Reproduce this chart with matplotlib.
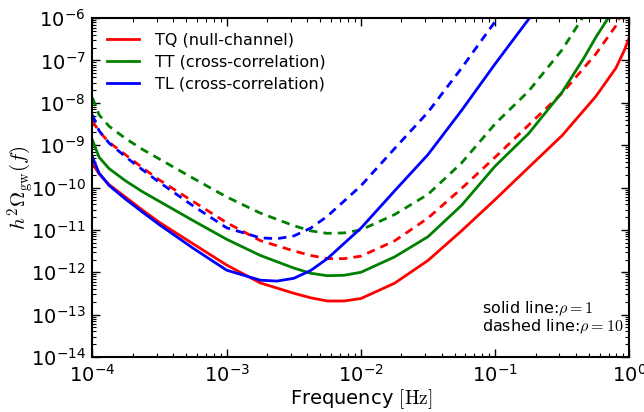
"""
Sensitivity curves h^2 Omega_gw(f) for the TQ / TT / TL channels,
solid for SNR rho = 1 and dashed for rho = 10.
"""

import numpy as np
import matplotlib
matplotlib.use("Agg")
import matplotlib.pyplot as plt
from matplotlib.ticker import LogLocator

plt.rcParams['mathtext.fontset'] = 'cm'
plt.rcParams['font.family'] = ['DejaVu Sans']

# data (rho = 1 curves)

f_tq = [1.0e-4, 1.12e-4, 1.33e-4, 1.78e-4, 2.37e-4, 3.16e-4, 5.62e-4, 1.0e-3,
        1.78e-3, 3.16e-3, 4.22e-3, 5.62e-3, 7.5e-3, 1.0e-2, 1.78e-2, 3.16e-2,
        5.62e-2, 0.1, 0.178, 0.316, 0.562, 0.794, 0.912, 1.0]
tq = [3.7e-10, 2.1e-10, 1.17e-10, 5.8e-11, 2.9e-11, 1.5e-11, 4.7e-12, 1.48e-12,
      5.6e-13, 3.2e-13, 2.5e-13, 2.1e-13, 2.1e-13, 2.4e-13, 5.5e-13, 1.9e-12,
      9.5e-12, 5.2e-11, 3.0e-10, 1.7e-9, 1.41e-8, 6.6e-8, 1.66e-7, 3.5e-7]

f_tt = [1.0e-4, 1.12e-4, 1.33e-4, 1.78e-4, 2.37e-4, 3.16e-4, 5.62e-4, 1.0e-3,
        1.78e-3, 3.16e-3, 4.22e-3, 5.62e-3, 7.5e-3, 1.0e-2, 1.78e-2, 3.16e-2,
        5.62e-2, 0.1, 0.178, 0.316, 0.457, 0.562, 0.8]
tt = [1.32e-9, 5.2e-10, 2.8e-10, 1.41e-10, 7.9e-11, 4.7e-11, 1.66e-11, 6.0e-12,
      2.5e-12, 1.26e-12, 9.5e-13, 8.3e-13, 8.5e-13, 1.0e-12, 2.3e-12, 6.9e-12,
      3.8e-11, 3.2e-10, 1.9e-9, 1.8e-8, 1.12e-7, 3.5e-7, 2.0e-6]

f_tl = [1.0e-4, 1.12e-4, 1.33e-4, 1.78e-4, 2.37e-4, 3.16e-4, 5.62e-4, 1.0e-3,
        1.78e-3, 2.37e-3, 3.16e-3, 4.22e-3, 5.62e-3, 1.0e-2, 1.78e-2, 3.16e-2,
        5.62e-2, 0.1, 0.178, 0.2]
tl = [5.2e-10, 2.2e-10, 1.12e-10, 5.2e-11, 2.6e-11, 1.32e-11, 3.7e-12, 1.12e-12,
      6.5e-13, 6.2e-13, 7.2e-13, 1.1e-12, 2.1e-12, 1.1e-11, 8.3e-11, 6.0e-10,
      6.6e-9, 8.3e-8, 9.5e-7, 1.5e-6]

labels = ["TQ (null-channel)", "TT (cross-correlation)", "TL (cross-correlation)"]
colors = ["red", "green", "blue"]

rho_solid = 1
rho_dashed = 10


def main():
    fig = plt.figure(figsize=(6.44, 4.12), dpi=100)
    ax = fig.add_axes([0.1436, 0.1335, 0.8336, 0.8225])

    curves = [(f_tq, tq), (f_tt, tt), (f_tl, tl)]

    for (f, h), lab, c in zip(curves, labels, colors):
        h = np.array(h)
        ax.plot(f, h * rho_solid, color=c, lw=2, label=lab)
        ax.plot(f, h * rho_dashed, color=c, lw=2, linestyle=(0, (3, 2.2)))

    ax.set_xscale('log')
    ax.set_yscale('log')
    ax.set_xlim(1e-4, 1)
    ax.set_ylim(1e-14, 1e-6)

    ax.yaxis.set_major_locator(LogLocator(base=10, numticks=20))
    ax.yaxis.set_minor_locator(LogLocator(base=10, subs=np.arange(2, 10), numticks=100))
    ax.xaxis.set_minor_locator(LogLocator(base=10, subs=np.arange(2, 10), numticks=100))

    ax.tick_params(which='both', direction='in', top=True, right=True)
    ax.tick_params(which='major', length=5.5, width=1, labelsize=14, pad=5)
    ax.tick_params(which='minor', length=2.8, width=0.8)
    for s in ax.spines.values():
        s.set_linewidth(1.5)

    ax.set_xlabel(r"Frequency $[\mathrm{Hz}]$", fontsize=14, labelpad=1)
    ax.set_ylabel(r"$h^2\Omega_{\rm gw}(f)$", fontsize=15)
    ax.yaxis.set_label_coords(-0.106, 0.5)

    ax.legend(loc='upper left', frameon=False, fontsize=11.5,
              labelspacing=0.45, handlelength=2.0, handletextpad=1.0)

    ax.text(0.726, 0.062, "solid line:$\\rho=1$\ndashed line:$\\rho=10$",
            transform=ax.transAxes, fontsize=11.5, ha='left', va='bottom',
            linespacing=1.0)

    fig.savefig("out.png", dpi=100)


if __name__ == "__main__":
    main()
